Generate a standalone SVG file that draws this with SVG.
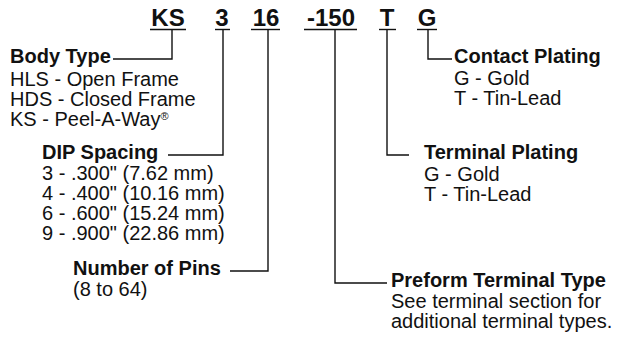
<svg xmlns="http://www.w3.org/2000/svg" width="624" height="346" viewBox="0 0 624 346">
<style>
text{font-family:"Liberation Sans",Arial,Helvetica,sans-serif;fill:#111;font-size:20px}
.h{font-weight:bold}
.code{font-weight:bold;font-size:24px;text-anchor:middle}
.ln{stroke:#111;stroke-width:1.4;fill:none}
</style>
<rect width="624" height="346" fill="#fff"/>
<g id="code">
<text class="code" x="168" y="26">KS</text>
<text class="code" x="222" y="26">3</text>
<text class="code" x="266" y="26">16</text>
<text class="code" x="331" y="26">-150</text>
<text class="code" x="387" y="26">T</text>
<text class="code" x="427" y="26">G</text>
<g class="ln">
<line x1="150" y1="29.5" x2="186" y2="29.5"/>
<line x1="215" y1="29.5" x2="230" y2="29.5"/>
<line x1="251" y1="29.5" x2="280" y2="29.5"/>
<line x1="304" y1="29.5" x2="357" y2="29.5"/>
<line x1="379" y1="29.5" x2="396" y2="29.5"/>
<line x1="417" y1="29.5" x2="437" y2="29.5"/>
</g>
</g>
<g id="connectors" class="ln">
<polyline points="172,30 172,59 113,59"/>
<polyline points="223,30 223,155 168,155"/>
<polyline points="268,30 268,271 230,271"/>
<polyline points="335,30 335,283 387,283"/>
<polyline points="387,30 387,155 409,155"/>
<polyline points="428,30 428,59 452,59"/>
</g>
<g id="body-type">
<text class="h" x="10" y="63">Body Type</text>
<text x="10" y="86">HLS - Open Frame</text>
<text x="10" y="106">HDS - Closed Frame</text>
<text x="10" y="126">KS - Peel-A-Way<tspan font-size="11" dy="-6">®</tspan></text>
</g>
<g id="dip-spacing">
<text class="h" x="42" y="159">DIP Spacing</text>
<text x="42" y="180">3 - .300" (7.62 mm)</text>
<text x="42" y="200">4 - .400" (10.16 mm)</text>
<text x="42" y="220">6 - .600" (15.24 mm)</text>
<text x="42" y="240">9 - .900" (22.86 mm)</text>
</g>
<g id="number-of-pins">
<text class="h" x="73" y="275">Number of Pins</text>
<text x="73" y="296">(8 to 64)</text>
</g>
<g id="contact-plating">
<text class="h" x="454" y="63">Contact Plating</text>
<text x="454" y="85">G - Gold</text>
<text x="454" y="105">T - Tin-Lead</text>
</g>
<g id="terminal-plating">
<text class="h" x="424" y="159">Terminal Plating</text>
<text x="424" y="181">G - Gold</text>
<text x="424" y="201">T - Tin-Lead</text>
</g>
<g id="preform-terminal-type">
<text class="h" x="391" y="287">Preform Terminal Type</text>
<text x="391" y="308">See terminal section for</text>
<text x="391" y="328">additional terminal types.</text>
</g>
</svg>
